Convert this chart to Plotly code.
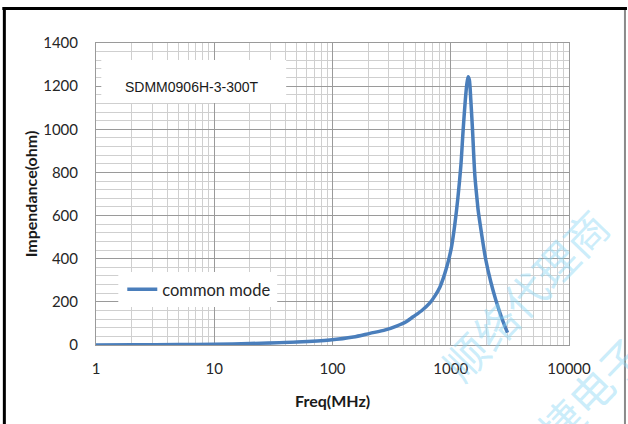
import plotly.graph_objects as go

# ---- data ----
freq_mhz = [1, 2, 5, 10, 20, 50, 95, 150, 207, 280, 348, 420, 481, 570, 666, 740,
            809, 865, 921, 970, 1016, 1083, 1148, 1217, 1273, 1328, 1368, 1403,
            1436, 1478, 1528, 1598, 1671, 1704, 1813, 1980, 2182, 2404, 2702, 3018]
impedance_ohm = [0.3, 0.7, 1.8, 3.5, 7, 14, 23, 37, 54, 70, 88, 108, 131, 160, 195, 230,
                 268, 310, 358, 405, 456, 560, 680, 830, 997, 1136, 1210, 1244,
                 1229, 1136, 997, 788, 672, 626, 524, 394, 292, 209, 125, 57]
series_name = "common mode"
part_label = "SDMM0906H-3-300T"
x_tick_vals = [1, 10, 100, 1000, 10000]
x_tick_text = ["1", "10", "100", "1000", "10000"]
x_minor_vals = [m * 10 ** d for d in range(4) for m in range(2, 10)]

# ---- geometry (pixels) ----
W, H = 628, 424
L, R, T, B = 95.7, 569.0, 43.0, 345.0
pw, ph = R - L, B - T


def px(x):
    return (x - L) / pw


def py(y):
    return (B - y) / ph


fig = go.Figure()
fig.add_trace(go.Scatter(
    x=freq_mhz, y=impedance_ohm, mode="lines", name=series_name,
    line=dict(color="#4a7ebb", width=3.5, shape="spline", smoothing=0.8),
))

tick_font = dict(family="Lato", size=15, color="#262626")

fig.update_layout(
    width=W, height=H,
    margin=dict(l=L, r=W - R, t=T, b=H - B, autoexpand=False),
    paper_bgcolor="white", plot_bgcolor="white",
    showlegend=True,
    legend=dict(
        x=px(122), y=py(272), xanchor="left", yanchor="top",
        bgcolor="white", borderwidth=0,
        font=dict(family="Lato", size=16.5, color="#262626"),
        itemwidth=30, tracegroupgap=0,
    ),
    xaxis=dict(
        type="log", range=[0, 4],
        tickmode="array", tickvals=x_tick_vals, ticktext=x_tick_text,
        showgrid=True, gridcolor="#9a9a9a", gridwidth=1,
        minor=dict(tickmode="array", tickvals=x_minor_vals, showgrid=True,
                   gridcolor="#cfcfcf", gridwidth=1, ticks=""),
        ticks="", tickfont=tick_font, ticklabelstandoff=10,
        zeroline=False, showline=True, linecolor="#9a9a9a", mirror=True,
    ),
    yaxis=dict(
        range=[0, 1400], dtick=200, tick0=0,
        showgrid=True, gridcolor="#9a9a9a", gridwidth=1,
        minor=dict(dtick=40, showgrid=True, gridcolor="#cfcfcf", gridwidth=1, ticks=""),
        ticks="", tickfont=tick_font, ticklabelstandoff=14,
        zeroline=False, showline=True, linecolor="#9a9a9a", mirror=True,
    ),
)

# legend background box (white, as in the reference)
fig.add_shape(type="rect", xref="paper", yref="paper",
              x0=px(118), x1=px(277), y0=py(306), y1=py(274),
              fillcolor="white", line=dict(width=0), layer="above")

# part label box
fig.add_shape(type="rect", xref="paper", yref="paper",
              x0=px(101), x1=px(286), y0=py(103), y1=py(60),
              fillcolor="white", line=dict(width=0), layer="above")
fig.add_annotation(x=px(191), y=py(87), xref="paper", yref="paper",
                   xanchor="center", yanchor="middle",
                   text=part_label, showarrow=False,
                   font=dict(family="Liberation Sans", size=14, color="#1a1a1a"))

# axis titles
fig.add_annotation(x=px(30), y=py(194), xref="paper", yref="paper",
                   xanchor="center", yanchor="middle",
                   text="<b>Impendance(ohm)</b>", textangle=-90, showarrow=False,
                   font=dict(family="Lato", size=16, color="#1a1a1a"))
fig.add_annotation(x=px(332), y=py(400), xref="paper", yref="paper",
                   xanchor="center", yanchor="middle",
                   text="<b>Freq(MHz)</b>", showarrow=False,
                   font=dict(family="Lato", size=16, color="#1a1a1a"))

# watermark
wm_color = "rgba(140,215,245,0.45)"
fig.add_annotation(x=px(524), y=py(294), xref="paper", yref="paper",
                   xanchor="center", yanchor="middle",
                   text="顺络代理商", textangle=-46, showarrow=False,
                   font=dict(family="Noto Sans CJK SC", size=43, color=wm_color))
fig.add_annotation(x=px(590), y=py(390), xref="paper", yref="paper",
                   xanchor="center", yanchor="middle",
                   text="捷电子", textangle=-46, showarrow=False,
                   font=dict(family="Noto Sans CJK SC", size=43, color=wm_color))

# outer frame
fig.add_shape(type="line", xref="paper", yref="paper",
              x0=px(2), x1=px(627), y0=py(8.5), y1=py(8.5),
              line=dict(color="black", width=3), layer="above")
fig.add_shape(type="line", xref="paper", yref="paper",
              x0=px(4), x1=px(4), y0=py(7), y1=py(430),
              line=dict(color="black", width=3), layer="above")
fig.add_shape(type="line", xref="paper", yref="paper",
              x0=px(625), x1=px(625), y0=py(10), y1=py(430),
              line=dict(color="#8a8a8a", width=2), layer="above")

fig.write_html("out.html", config={"displayModeBar": False},
               post_script="document.body.style.margin='0';")
